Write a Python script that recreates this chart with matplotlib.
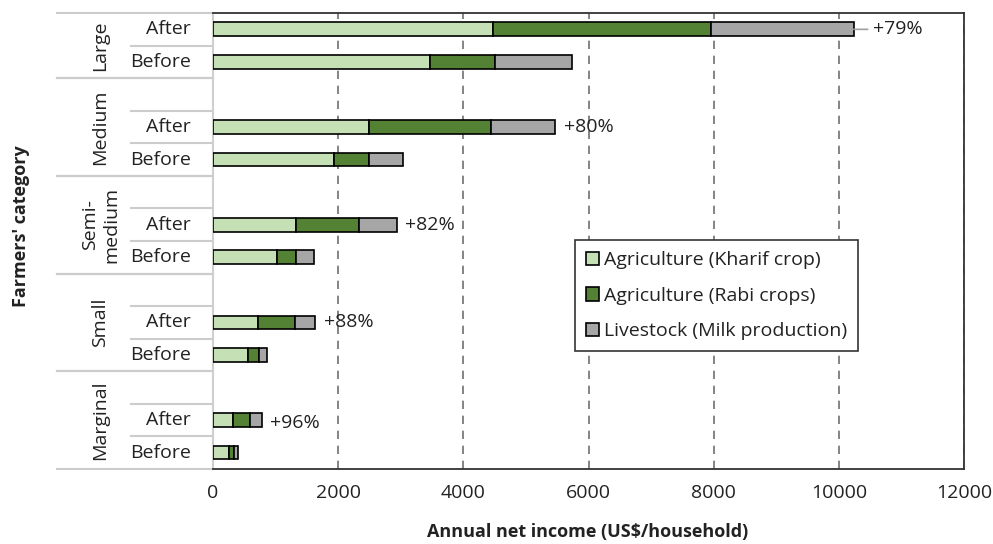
import numpy as np
import matplotlib
matplotlib.use("Agg")
import matplotlib.pyplot as plt
from matplotlib import transforms

plt.rcParams["font.family"] = ["Open Sans", "DejaVu Sans"]

# ==============================================================
# Data (US$/household), bottom group first
# ==============================================================
groups = ["Marginal", "Small", "Semi-\nmedium", "Medium", "Large"]
stages = ["Before", "After"]

kharif_before = [260, 560, 1020, 1940, 3460]
rabi_before = [75, 180, 310, 560, 1050]
milk_before = [65, 130, 290, 535, 1220]

kharif_after = [325, 725, 1330, 2500, 4480]
rabi_after = [265, 590, 1000, 1940, 3470]
milk_after = [195, 320, 610, 1030, 2290]

pct_labels = ["+96%", "+88%", "+82%", "+80%", "+79%"]

series_names = ["Agriculture (Kharif crop)", "Agriculture (Rabi crops)",
                "Livestock (Milk production)"]
colors = ["#c5e0b4", "#548235", "#a6a6a6"]

FS = 14
TXT = "#222222"

# ==============================================================
# Layout of rows: Before, After, blank gap per group (no gap on top)
# ==============================================================
n = len(groups)
y_before = np.arange(n) * 3
y_after = y_before + 1
n_slots = 3 * n - 1

fig = plt.figure(figsize=(9.93, 5.44), dpi=100)
ax = fig.add_axes([0.2145, 0.138, 0.7563, 0.838])

bar_h = 0.42
for ys, parts in [(y_before, (kharif_before, rabi_before, milk_before)),
                  (y_after, (kharif_after, rabi_after, milk_after))]:
    left = np.zeros(n)
    for vals, col, name in zip(parts, colors, series_names):
        ax.barh(ys, vals, left=left, height=bar_h, color=col,
                edgecolor="black", linewidth=1.2, zorder=3,
                label=name if ys is y_before else None)
        left = left + np.array(vals)

# percentage labels at the end of the "After" bars
totals_after = np.array(kharif_after) + np.array(rabi_after) + np.array(milk_after)
for i, (tot, lab) in enumerate(zip(totals_after, pct_labels)):
    if i == n - 1:
        ax.annotate(lab, xy=(tot, y_after[i]), xytext=(14, 0),
                    textcoords="offset points", va="center", ha="left",
                    fontsize=FS, color=TXT,
                    arrowprops=dict(arrowstyle="-", color="#a0a0a0",
                                    lw=1.2, shrinkA=2, shrinkB=0))
    else:
        dy = -2 if i == 0 else 0
        ax.annotate(lab, xy=(tot, y_after[i]), xytext=(6, dy),
                    textcoords="offset points", va="center", ha="left",
                    fontsize=FS, color=TXT)

ax.set_xlim(0, 12000)
ax.set_ylim(-0.5, n_slots - 0.5)
ax.set_xticks(np.arange(0, 12001, 2000))
ax.set_yticks([])
ax.tick_params(axis="x", length=0, pad=11, labelsize=FS, labelcolor=TXT)
ax.grid(axis="x", color="#707070", linestyle=(0, (5, 4)), linewidth=1.2, zorder=0)

for s in ["top", "right", "bottom"]:
    ax.spines[s].set_color("#333333")
    ax.spines[s].set_linewidth(1.3)
ax.spines["left"].set_color("#cfcfcf")
ax.spines["left"].set_linewidth(1.5)

# ==============================================================
# Hierarchical category axis on the left
# ==============================================================
tr = transforms.blended_transform_factory(ax.transAxes, ax.transData)
sep_col = "#cccccc"
x_short, x_long = -0.109, -0.208

for i, g in enumerate(groups):
    for y, st in [(y_before[i], "Before"), (y_after[i], "After")]:
        ax.text(-0.029, y, st, transform=tr, ha="right", va="center",
                fontsize=FS, color=TXT)
    lo = y_before[i] - 0.5
    hi = y_after[i] + 1.5 if i < n - 1 else y_after[i] + 0.5
    inner = [y_before[i] + 0.5]
    if i < n - 1:
        inner.append(y_after[i] + 0.5)
    for yl in inner:
        ax.plot([x_short, 0], [yl, yl], transform=tr, color=sep_col,
                lw=1.5, clip_on=False)
    for yl in [lo, hi]:
        ax.plot([x_long, 0], [yl, yl], transform=tr, color=sep_col,
                lw=1.5, clip_on=False)
    ax.text(-0.150, (lo + hi) / 2, g, transform=tr, ha="center", va="center",
            rotation=90, fontsize=FS, color=TXT, linespacing=1.25)

leg = ax.legend(loc="lower left", bbox_to_anchor=(0.482, 0.259), fontsize=FS,
                frameon=True, fancybox=False, edgecolor="#333333",
                framealpha=1, handlelength=0.7, handleheight=0.7,
                handletextpad=0.25, labelspacing=0.9, borderpad=0.55,
                borderaxespad=0)
leg.get_frame().set_linewidth(1.2)
for t in leg.get_texts():
    t.set_color(TXT)

fig.text(0.021, 0.585, "Farmers' category", rotation=90, ha="center",
         va="center", fontsize=13, fontweight="bold", color=TXT)
fig.text(0.592, 0.022, "Annual net income (US$/household)", ha="center",
         va="center", fontsize=13, fontweight="bold", color=TXT)

fig.savefig("out.png", dpi=100)
